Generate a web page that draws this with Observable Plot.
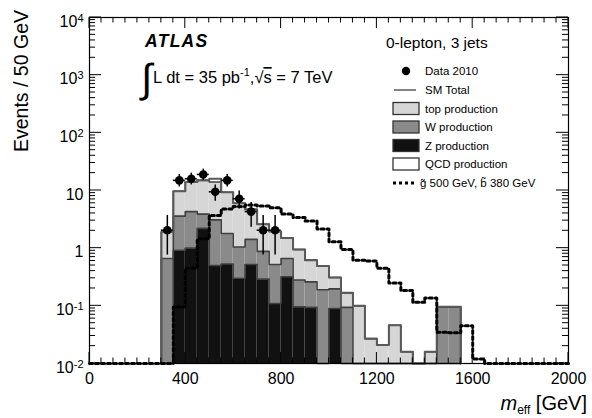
<!DOCTYPE html>
<html><head><meta charset="utf-8">
<script src="https://cdn.jsdelivr.net/npm/d3@7"></script>
<script src="https://cdn.jsdelivr.net/npm/@observablehq/plot@0.6"></script>
<style>
html,body{margin:0;padding:0;background:#fff;}
#chart{width:592px;height:418px;}
</style></head><body><div id="chart"></div>
<script>
// ---- data ----
const binWidth = 50;
const stackBins = [300,350,400,450,500,550,600,650,700,750,800,850,900,950,1000,1050,1100,1150,1200,1250,1300,1350,1400,1450,1500];
const zProd   = [0,0.92,1.0,2.2,0.5,0.53,0.30,0.52,0.29,0.11,0.32,0.096,0.094,0,0.09,0,0,0,0,0,0,0,0,0,0];
const wProd   = [0.66,2.68,3.3,1.7,2.6,1.27,0.75,0.90,0.59,0.41,0.34,0.184,0.166,0.19,0.107,0.094,0,0,0,0,0,0,0,0.096,0.096];
const topProd = [1.24,6.1,9.7,11.1,10.9,7.5,4.95,3.28,1.72,1.43,0.84,0.67,0.36,0.30,0.113,0.074,0.10,0.027,0.021,0.046,0.016,0,0.016,0,0];
const qcdProd = [0,0,0,0,2.0,0,0,0,0,0,0,0,0,0,0,0,0,0,0,0,0,0,0,0,0];

const signalBins = [0,50,100,150,200,250,300,350,400,450,500,550,600,650,700,750,800,850,900,950,1000,1050,1100,1150,1200,1250,1300,1350,1400,1450,1500,1550,1600,1650,1700,1750,1800,1850,1900,1950];
const signalVals = [0,0,0,0,0,0,0,0.095,0.45,1.45,3.7,4.8,5.3,5.6,5.4,5.0,3.9,3.4,2.95,2.15,1.29,0.95,0.62,0.6,0.45,0.25,0.185,0.115,0.137,0.035,0.034,0.045,0.012,0,0,0,0,0,0,0];

const dataX    = [325,375,425,475,525,575,625,675,725,775];
const dataY    = [2.05,15,16,19,9.5,15,7.2,4.3,2.05,2.05];
const dataLow  = [0.76,11.5,12.5,15,6.5,11.5,4.8,2.3,0.76,0.76];
const dataHigh = [3.7,19,20,23.5,12.5,19,9.8,6.2,3.7,3.7];

const xTicks = [0,400,800,1200,1600,2000];
const yTicks = [0.01,0.1,1,10,100,1000,10000];
const yTickLabels = ["10^-2","10^-1","1","10","10^2","10^3","10^4"];

const compNames  = ["Z production","W production","top production","QCD production"];
const compColors = ["#111111","#8a8a8a","#d6d6d6","#ffffff"];
const compValues = [zProd, wProd, topProd, qcdProd];

// ---- build tables ----
const yMin = yTicks[0], yMax = yTicks[yTicks.length-1], xMin = xTicks[0], xMax = xTicks[xTicks.length-1];
const stackRows = [];
const cumLevels = compNames.map(() => []);
stackBins.forEach((b, i) => {
  let cum = 0;
  compValues.forEach((vals, k) => {
    const v = vals[i];
    if (v > 0) stackRows.push({x1: b, x2: b + binWidth, y1: Math.max(cum, yMin), y2: cum + v, comp: compNames[k]});
    cum += v;
    cumLevels[k].push(cum);
  });
});
function stepPoints(bins, vals) {
  const pts = [{x: bins[0], y: yMin}];
  bins.forEach((b, i) => {
    const v = Math.max(vals[i], yMin);
    pts.push({x: b, y: v}, {x: b + binWidth, y: v});
  });
  pts.push({x: bins[bins.length-1] + binWidth, y: yMin});
  return pts;
}
const outlineMarks = cumLevels.slice(0, 3).map(c =>
  Plot.line(stepPoints(stackBins, c), {x: "x", y: "y", stroke: "#404040", strokeWidth: 1.6}));
const smTotal = Plot.line(stepPoints(stackBins, cumLevels[3]), {x: "x", y: "y", stroke: "#5a5a5a", strokeWidth: 2});
const signalPts = stepPoints(signalBins, signalVals);
const dataRows = dataX.map((x, i) => ({x, y: dataY[i], lo: dataLow[i], hi: dataHigh[i]}));

const font = '"Liberation Sans", Arial, Helvetica, sans-serif';

const plot = Plot.plot({
  width: 592, height: 418,
  marginLeft: 89, marginRight: 24, marginTop: 17, marginBottom: 55,
  x: {domain: [xMin, xMax]},
  y: {type: "log", domain: [yMin, yMax]},
  color: {domain: compNames, range: compColors},
  style: {fontFamily: font, fontSize: "16px", color: "black", background: "white", overflow: "visible"},
  marks: [
    Plot.rect(stackRows, {x1: "x1", x2: "x2", y1: "y1", y2: "y2", fill: "comp"}),
    ...outlineMarks,
    smTotal,
    Plot.line(signalPts, {x: "x", y: "y", stroke: "black", strokeWidth: 3, strokeDasharray: "3,3"}),
    Plot.ruleX(dataRows, {x: "x", y1: "lo", y2: "hi", stroke: "black", strokeWidth: 1.5}),
    Plot.ruleY(dataRows, {y: "y", x1: d => d.x - binWidth / 2, x2: d => d.x + binWidth / 2, stroke: "black", strokeWidth: 1.5}),
    Plot.dot(dataRows, {x: "x", y: "y", r: 4.3, fill: "black", stroke: "none"}),
    Plot.frame({stroke: "black", strokeWidth: 1.2}),
    Plot.axisX({ticks: xTicks, tickSize: 0, tickPadding: 9, fontSize: 16, label: null, tickFormat: d => String(d)}),
    Plot.axisY({ticks: yTicks, tickSize: 0, tickPadding: 6, fontSize: 16, label: null, dy: 4,
      tickFormat: d => yTickLabels[yTicks.indexOf(d)]})
  ]
});

// ---- decorations ----
const svg = d3.select(plot);
const xs = plot.scale("x"), ys = plot.scale("y");
const L = xs.apply(xMin), R = xs.apply(xMax), T = ys.apply(yMax), B = ys.apply(yMin);

// superscripts on y tick labels
svg.selectAll('g[aria-label="y-axis tick label"] text').each(function() {
  const s = this.textContent;
  if (s.includes("^")) {
    const [base, exp] = s.split("^");
    const t = d3.select(this);
    t.text(base);
    t.append("tspan").attr("dy", "-0.45em").attr("font-size", "11px").text(exp);
  }
});

// inside ticks (ROOT style)
const tg = svg.append("g").attr("stroke", "black").attr("stroke-width", 1);
const xMinor = d3.range(xMin, xMax + 1, binWidth);
xMinor.forEach(v => {
  const len = xTicks.includes(v) ? 11 : 5.5;
  const px = xs.apply(v);
  tg.append("line").attr("x1", px).attr("x2", px).attr("y1", B).attr("y2", B - len);
  tg.append("line").attr("x1", px).attr("x2", px).attr("y1", T).attr("y2", T + len);
});
yTicks.forEach((d, i) => {
  const py = ys.apply(d);
  tg.append("line").attr("x1", L).attr("x2", L + 12).attr("y1", py).attr("y2", py);
  tg.append("line").attr("x1", R).attr("x2", R - 12).attr("y1", py).attr("y2", py);
  if (i < yTicks.length - 1) {
    for (let k = 2; k <= 9; k++) {
      const my = ys.apply(d * k);
      tg.append("line").attr("x1", L).attr("x2", L + 6).attr("y1", my).attr("y2", my);
      tg.append("line").attr("x1", R).attr("x2", R - 6).attr("y1", my).attr("y2", my);
    }
  }
});

// all annotation text in one group, left-anchored unless stated
const ann = svg.append("g").attr("font-family", font).attr("text-anchor", "start").attr("fill", "black");

// axis titles
ann.append("text").attr("transform", "translate(28,10) rotate(-90)").attr("text-anchor", "end")
  .attr("font-size", 19.5).text("Events / 50 GeV");
const xt = ann.append("text").attr("x", 587).attr("y", 410).attr("text-anchor", "end").attr("font-size", 20);
xt.append("tspan").attr("font-style", "italic").text("m");
xt.append("tspan").attr("font-size", 12).attr("dy", 4).text("eff");
xt.append("tspan").attr("dy", -4).text(" [GeV]");

// ATLAS label and luminosity
ann.append("text").attr("x", 145).attr("y", 47).attr("font-size", 17.5).attr("font-weight", "bold")
  .attr("font-style", "italic").attr("letter-spacing", 1.3).text("ATLAS");
ann.append("text").attr("x", 141).attr("y", 92).attr("font-size", 40).text("∫");
const lumi = ann.append("text").attr("x", 153).attr("y", 83).attr("font-size", 16.5);
lumi.append("tspan").text("L dt = 35 pb");
lumi.append("tspan").attr("font-size", 11).attr("dy", -7).text("-1");
lumi.append("tspan").attr("dy", 7).text(",√");
lumi.append("tspan").attr("text-decoration", "overline").text("s");
lumi.append("tspan").text(" = 7 TeV");

ann.append("text").attr("x", 386).attr("y", 48).attr("font-size", 15.5).text("0-lepton, 3 jets");

// legend
const lg = ann.append("g").attr("font-size", 11.5);
const legendRows = [
  {kind: "dot", label: "Data 2010", cy: 71},
  {kind: "line", label: "SM Total", cy: 90},
  {kind: "box", label: "top production", cy: 108.5, fill: compColors[2]},
  {kind: "box", label: "W production", cy: 127, fill: compColors[1]},
  {kind: "box", label: "Z production", cy: 145.5, fill: compColors[0]},
  {kind: "box", label: "QCD production", cy: 164, fill: compColors[3]},
  {kind: "dash", label: "g\u0303 500 GeV, b\u0303 380 GeV", cy: 183}
];
legendRows.forEach(r => {
  if (r.kind === "dot") lg.append("circle").attr("cx", 406).attr("cy", r.cy).attr("r", 4.2).attr("fill", "black");
  if (r.kind === "line") lg.append("line").attr("x1", 394).attr("x2", 416).attr("y1", r.cy).attr("y2", r.cy).attr("stroke", "#5a5a5a").attr("stroke-width", 1.5);
  if (r.kind === "box") lg.append("rect").attr("x", 393).attr("y", r.cy - 6).attr("width", 26).attr("height", 12).attr("fill", r.fill).attr("stroke", "#333").attr("stroke-width", 1.3);
  if (r.kind === "dash") lg.append("line").attr("x1", 393).attr("x2", 416).attr("y1", r.cy).attr("y2", r.cy).attr("stroke", "black").attr("stroke-width", 3).attr("stroke-dasharray", "3,3");
  lg.append("text").attr("x", r.kind === "dash" ? 420 : 425).attr("y", r.cy + 4.2).text(r.label);
});

document.getElementById("chart").appendChild(plot);
</script>
</body></html>
